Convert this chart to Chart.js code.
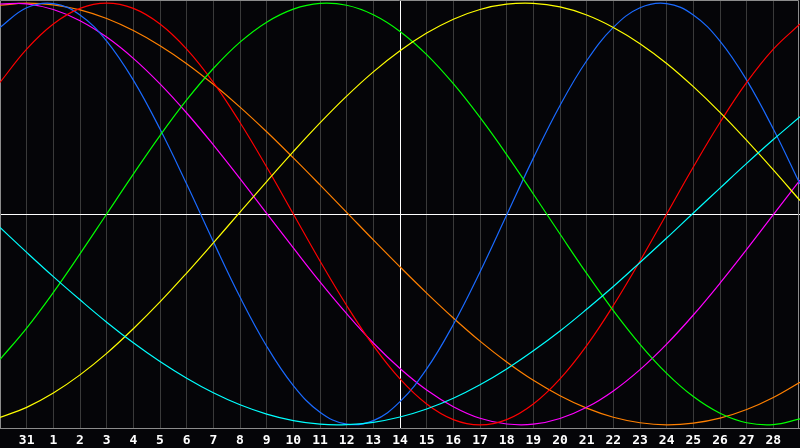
<!DOCTYPE html>
<html>
<head>
<meta charset="utf-8">
<script src="https://cdn.jsdelivr.net/npm/chart.js@4.4.1/dist/chart.umd.min.js"></script>
<style>
  html, body { margin: 0; padding: 0; background: #050508; }
  #wrap { width: 800px; height: 448px; position: relative; }
</style>
</head>
<body>
<div id="wrap"><canvas id="c"></canvas></div>
<script>
// Day labels (index 0 = left edge, index 30 = right edge)
const days = ['', '31', '1', '2', '3', '4', '5', '6', '7', '8', '9', '10', '11', '12', '13', '14',
  '15', '16', '17', '18', '19', '20', '21', '22', '23', '24', '25', '26', '27', '28', ''];

// Series values per day index 0..30 (range -1..1)
const blueVals = [0.885, 0.978, 0.998, 0.944, 0.820, 0.635, 0.403, 0.142, -0.131, -0.394, -0.627,
  -0.814, -0.940, -0.997, -0.980, -0.890, -0.735, -0.524, -0.275, -0.005, 0.265, 0.515, 0.727,
  0.885, 0.978, 0.998, 0.944, 0.820, 0.635, 0.403, 0.142];
const redVals = [0.624, 0.782, 0.901, 0.975, 1.000, 0.975, 0.901, 0.782, 0.624, 0.434, 0.223,
  0.000, -0.223, -0.434, -0.624, -0.782, -0.901, -0.975, -1.000, -0.975, -0.901, -0.782, -0.624,
  -0.434, -0.223, 0.000, 0.223, 0.434, 0.624, 0.782, 0.901];
const greenVals = [-0.690, -0.541, -0.372, -0.189, 0.000, 0.189, 0.372, 0.541, 0.690, 0.815, 0.910,
  0.972, 0.999, 0.990, 0.945, 0.866, 0.756, 0.618, 0.458, 0.282, 0.095, -0.095, -0.282, -0.458,
  -0.618, -0.756, -0.866, -0.945, -0.990, -0.999, -0.972];
const yellowVals = [-0.965, -0.917, -0.849, -0.763, -0.661, -0.544, -0.417, -0.280, -0.137, 0.009,
  0.154, 0.296, 0.432, 0.559, 0.674, 0.774, 0.858, 0.924, 0.970, 0.995, 0.999, 0.982, 0.944,
  0.885, 0.808, 0.714, 0.604, 0.482, 0.349, 0.209, 0.064];
const cyanVals = [-0.064, -0.182, -0.297, -0.407, -0.513, -0.611, -0.700, -0.779, -0.848, -0.905,
  -0.949, -0.980, -0.997, -0.999, -0.988, -0.963, -0.925, -0.874, -0.810, -0.735, -0.649, -0.555,
  -0.452, -0.344, -0.230, -0.114, 0.005, 0.123, 0.240, 0.353, 0.461];
const magentaVals = [0.996, 0.997, 0.970, 0.917, 0.839, 0.738, 0.617, 0.479, 0.328, 0.168, 0.003,
  -0.161, -0.322, -0.473, -0.612, -0.733, -0.835, -0.914, -0.969, -0.996, -0.997, -0.970, -0.917,
  -0.839, -0.738, -0.617, -0.479, -0.328, -0.168, -0.003, 0.161];
const orangeVals = [0.990, 1.000, 0.992, 0.968, 0.927, 0.870, 0.798, 0.713, 0.615, 0.507, 0.390,
  0.266, 0.138, 0.008, -0.123, -0.251, -0.375, -0.493, -0.603, -0.702, -0.789, -0.862, -0.921,
  -0.964, -0.990, -1.000, -0.992, -0.968, -0.927, -0.870, -0.798];

const seriesList = [
  { vals: cyanVals, color: '#00ffff' },
  { vals: yellowVals, color: '#ffff00' },
  { vals: greenVals, color: '#00ff00' },
  { vals: redVals, color: '#ff0000' },
  { vals: blueVals, color: '#1a6aff' },
  { vals: magentaVals, color: '#ff00ff' },
  { vals: orangeVals, color: '#ff8000' }
];

const datasets = seriesList.map(s => ({
  data: s.vals.map((v, i) => ({ x: i, y: v })),
  borderColor: s.color,
  borderWidth: 1.2,
  pointRadius: 0,
  pointHoverRadius: 0,
  tension: 0.4,
  fill: false
}));

const frame = {
  id: 'frame',
  beforeDraw(chart) {
    const ctx = chart.ctx;
    ctx.save();
    ctx.fillStyle = '#050508';
    ctx.fillRect(0, 0, chart.width, chart.height);
    ctx.restore();
  },
  beforeDatasetsDraw(chart) {
    const ctx = chart.ctx;
    const a = chart.chartArea;
    const y0 = Math.round(chart.scales.y.getPixelForValue(0)) + 0.5;
    ctx.save();
    ctx.strokeStyle = '#ffffff';
    ctx.lineWidth = 1;
    ctx.beginPath();
    ctx.moveTo(a.left, y0);
    ctx.lineTo(a.right, y0);
    ctx.stroke();
    ctx.strokeStyle = '#8c8c8c';
    ctx.beginPath();
    ctx.moveTo(0.5, a.bottom);
    ctx.lineTo(0.5, 0.5);
    ctx.lineTo(798.5, 0.5);
    ctx.lineTo(798.5, a.bottom);
    ctx.stroke();
    ctx.restore();
  }
};

new Chart(document.getElementById('c'), {
  type: 'line',
  data: { datasets },
  options: {
    responsive: true,
    maintainAspectRatio: false,
    animation: false,
    events: [],
    layout: { padding: 0, autoPadding: false },
    plugins: { legend: { display: false }, tooltip: { enabled: false } },
    scales: {
      x: {
        type: 'linear',
        min: 0,
        max: 30,
        afterFit(s) { s.height = 20; s.paddingLeft = 0; s.paddingRight = 0; },
        border: { display: true, color: '#8c8c8c', width: 1 },
        grid: {
          drawTicks: false,
          lineWidth: 1,
          color: (c) => {
            const v = c.tick ? c.tick.value : null;
            if (v === 15) return '#ffffff';
            if (v === 0 || v === 30) return 'rgba(0,0,0,0)';
            return '#3a3a3a';
          }
        },
        ticks: {
          stepSize: 1,
          autoSkip: false,
          maxRotation: 0,
          padding: 5,
          color: '#ffffff',
          font: { family: 'DejaVu Sans Mono', size: 13, weight: 'bold' },
          callback: (v) => days[v] ?? ''
        }
      },
      y: {
        display: false,
        min: -1.015,
        max: 1.015
      }
    }
  },
  plugins: [frame]
});
</script>
</body>
</html>
